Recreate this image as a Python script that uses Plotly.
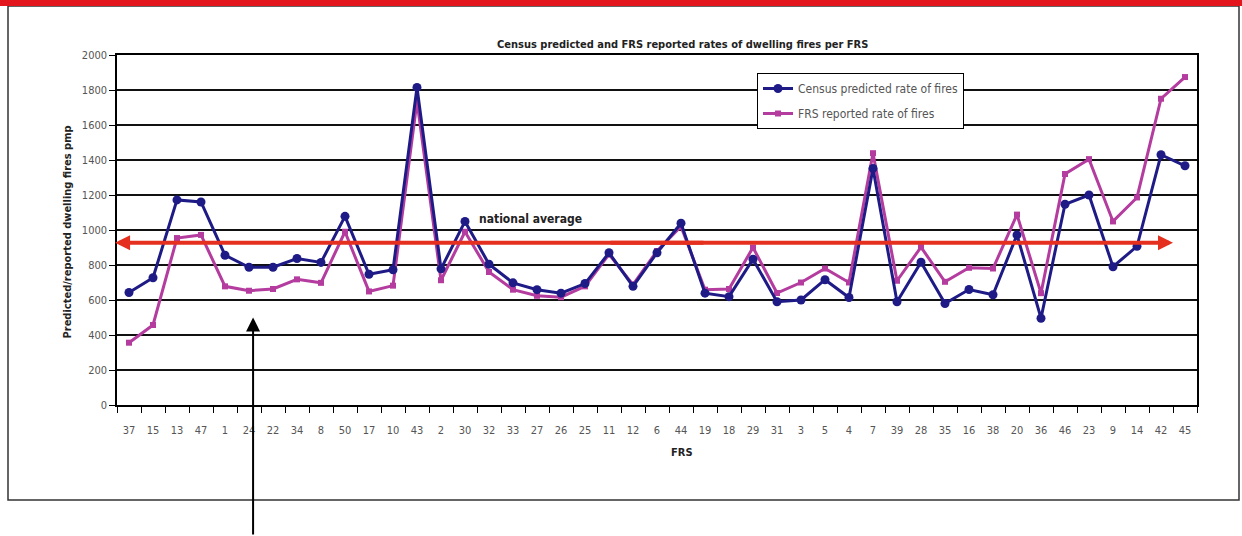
import plotly.graph_objects as go

# ---- data ----
categories = ["37", "15", "13", "47", "1", "24", "22", "34", "8", "50", "17", "10", "43", "2",
              "30", "32", "33", "27", "26", "25", "11", "12", "6", "44", "19", "18", "29", "31",
              "3", "5", "4", "7", "39", "28", "35", "16", "38", "20", "36", "46", "23", "9",
              "14", "42", "45"]
census_predicted = [643, 727, 1172, 1160, 856, 787, 787, 837, 815, 1078, 747, 773, 1815, 778,
                    1049, 805, 698, 659, 639, 694, 870, 678, 870, 1039, 639, 619, 833, 590,
                    600, 716, 614, 1352, 590, 816, 580, 660, 630, 972, 496, 1147, 1200, 790,
                    907, 1430, 1367]
frs_reported = [356, 457, 954, 972, 678, 653, 663, 718, 698, 990, 649, 682, 1735, 713,
                990, 760, 659, 624, 616, 678, 861, 688, 880, 1020, 659, 663, 900, 640,
                700, 780, 700, 1439, 710, 902, 704, 784, 780, 1088, 639, 1320, 1405, 1049,
                1186, 1750, 1874]
national_average = 927
y_ticks = [0, 200, 400, 600, 800, 1000, 1200, 1400, 1600, 1800, 2000]

# ---- layout constants ----
W, H = 1242, 536
ML, MR, MT, MB = 117, 45, 55, 131
PW, PH = W - ML - MR, H - MT - MB


def px(x):
    return (x - ML) / PW


def py(y):
    return (H - MB - y) / PH


NAVY = "#1e1b86"
MAGENTA = "#b43c9f"
RED = "#e5301f"
FONT = "Liberation Sans Narrow, DejaVu Sans Condensed, Arial Narrow, sans-serif"
GRAY = "#555555"

fig = go.Figure()
fig.add_trace(go.Scatter(
    x=categories, y=frs_reported, name="FRS reported rate of fires",
    mode="lines+markers", line=dict(color=MAGENTA, width=3), legendgroup="b", legendrank=2,
    marker=dict(symbol="square", size=6, color=MAGENTA)))
fig.add_trace(go.Scatter(
    x=categories, y=census_predicted, name="Census predicted rate of fires",
    mode="lines+markers", line=dict(color=NAVY, width=3), legendgroup="a", legendrank=1,
    marker=dict(symbol="circle", size=9, color=NAVY)))

n = len(categories)
mid = (n - 1) / 2
annotations = [
    # national average double arrow (tails overlap in the middle)
    dict(x=-0.58, y=national_average, xref="x", yref="y", ax=mid + 2, ay=national_average,
         axref="x", ayref="y", showarrow=True, arrowhead=2, arrowsize=0.75, arrowwidth=4,
         arrowcolor=RED, text=""),
    dict(x=n - 1.5, y=national_average, xref="x", yref="y", ax=mid - 2, ay=national_average,
         axref="x", ayref="y", showarrow=True, arrowhead=2, arrowsize=0.75, arrowwidth=4,
         arrowcolor=RED, text=""),
    dict(x=px(530), y=py(219), xref="paper", yref="paper", text="<b>national average</b>",
         showarrow=False, font=dict(family=FONT, size=12, color="#222222")),
    # black pointer arrow
    dict(x=5.17, y=500, xref="x", yref="y", ax=0, ay=222, showarrow=True, arrowhead=2,
         arrowsize=1.4, arrowwidth=2, arrowcolor="black", text=""),
    # axis titles
    dict(x=px(58), y=py(232), xref="paper", yref="paper", textangle=-90,
         text="<b>Predicted/reported dwelling fires pmp</b>", showarrow=False,
         font=dict(family=FONT, size=11, color="#222222")),
    dict(x=px(682), y=py(461), xref="paper", yref="paper", text="<b>FRS</b>",
         showarrow=False, font=dict(family=FONT, size=11, color="#222222")),
    dict(x=px(682), y=py(36), xref="paper", yref="paper",
         text="<b>Census predicted and FRS reported rates of dwelling fires per FRS</b>",
         showarrow=False, font=dict(family=FONT, size=11, color="#222222")),
]

shapes = [
    dict(type="rect", xref="paper", yref="paper", x0=px(0), x1=px(W), y0=py(6), y1=py(-2),
         fillcolor="#e3161e", line=dict(width=0), layer="above"),
    dict(type="rect", xref="paper", yref="paper", x0=px(8), x1=px(1239), y0=py(500), y1=py(6),
         fillcolor="rgba(0,0,0,0)", line=dict(color="#333333", width=1.5), layer="below"),
]

fig.update_layout(
    width=W, height=H,
    margin=dict(l=ML, r=MR, t=MT, b=MB),
    paper_bgcolor="white", plot_bgcolor="white",
    font=dict(family=FONT, size=11, color=GRAY),
    showlegend=True,
    legend=dict(x=px(757), y=py(73), xanchor="left", yanchor="top",
                bgcolor="white", bordercolor="black", borderwidth=1,
                traceorder="grouped", tracegroupgap=6,
                font=dict(family=FONT, size=12, color=GRAY), itemwidth=30),
    annotations=annotations,
    shapes=shapes,
    xaxis=dict(type="category", range=[-0.5, n - 0.5], showgrid=False,
               showline=True, linecolor="black", linewidth=1.5, mirror=True,
               ticks="outside", tickson="boundaries", ticklen=6, tickcolor="black",
               tickwidth=1.2, tickfont=dict(family=FONT, size=11, color=GRAY),
               ticklabelstandoff=14, fixedrange=True),
    yaxis=dict(range=[0, 2000], tickvals=y_ticks, showgrid=True, gridcolor="#111111",
               gridwidth=1.5, showline=True, linecolor="black", linewidth=1.5, mirror=True,
               ticks="outside", ticklen=6, tickcolor="black", tickwidth=1.2,
               tickfont=dict(family=FONT, size=11, color=GRAY), zeroline=False,
               fixedrange=True),
)

fig.write_html("out.html", config={"displayModeBar": False},
               post_script="document.body.style.margin='0';")
